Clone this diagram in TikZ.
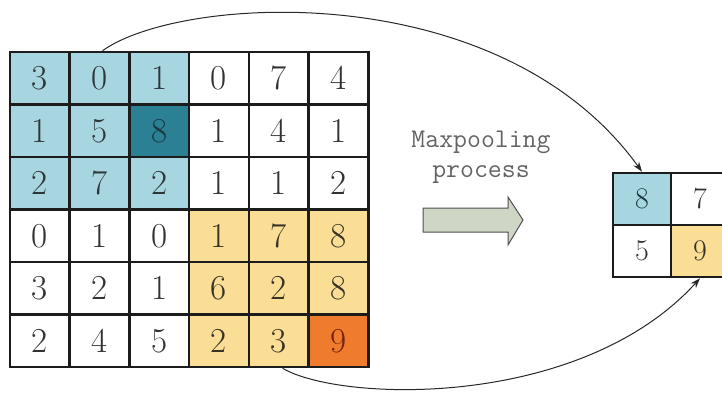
\documentclass[tikz,border=0pt]{standalone}
\usetikzlibrary{arrows.meta}

% cell fills: 0 plain, 1 blue window, 2 yellow window, 3 blue max, 4 yellow max
\definecolor{zone0}{RGB}{255,255,255}
\definecolor{zone1}{RGB}{168,214,224}
\definecolor{zone2}{RGB}{250,222,150}
\definecolor{zone3}{RGB}{43,128,148}
\definecolor{zone4}{RGB}{238,124,44}
\definecolor{ink0}{RGB}{50,50,50}
\definecolor{ink1}{RGB}{45,55,58}
\definecolor{ink2}{RGB}{55,50,35}
\definecolor{ink3}{RGB}{25,55,65}
\definecolor{ink4}{RGB}{120,35,15}
\definecolor{gridline}{RGB}{28,28,28}
\definecolor{labelgray}{RGB}{100,100,100}
\definecolor{arrowfill}{RGB}{208,214,198}
\definecolor{arrowline}{RGB}{80,80,80}
\definecolor{curveline}{RGB}{40,40,40}

\begin{document}
\begin{tikzpicture}[x=1pt,y=-1pt,
  cell/.style={draw=gridline, line width=2.6pt, minimum width=59.7pt,
    minimum height=52.5pt, inner sep=0pt, font=\fontsize{35}{35}\selectfont},
  smallcell/.style={draw=gridline, line width=2.6pt, minimum width=58pt,
    minimum height=52pt, inner sep=0pt, font=\fontsize{30}{30}\selectfont},
  link/.style={draw=curveline, line width=1pt, -{Stealth[length=10pt,width=7pt]}}]
\useasboundingbox (0,0) rectangle (722,392);
\clip (0,0) rectangle (722,392);

% 6x6 input feature map
\foreach \row [count=\r] in {{3,0,1,0,7,4},{1,5,8,1,4,1},{2,7,2,1,1,2},
                             {0,1,0,1,7,8},{3,2,1,6,2,8},{2,4,5,2,3,9}} {
  \foreach \v [count=\c] in \row {
    \pgfmathtruncatemacro\zone{and(\r==2,\c==3) ? 3 :
      (and(\r==6,\c==6) ? 4 : (and(\r<4,\c<4) ? 1 : (and(\r>3,\c>3) ? 2 : 0)))}
    \node[cell, fill=zone\zone, text=ink\zone] (m-\r-\c)
      at ({10+(\c-0.5)*59.7},{52+(\r-0.5)*52.5}) {\v};
  }
}

% 2x2 pooled output
\node[smallcell, fill=zone1, text=ink3] (p-1-1) at (642,199) {8};
\node[smallcell, fill=zone0, text=ink0] (p-1-2) at (700,199) {7};
\node[smallcell, fill=zone0, text=ink0] (p-2-1) at (642,251) {5};
\node[smallcell, fill=zone2, text=ink2] (p-2-2) at (700,251) {9};

% caption and block arrow
\node[text=labelgray, font=\ttfamily\fontsize{27}{30}\selectfont, align=center]
  (caption) at (481,157) {Maxpooling\\process};
\draw[fill=arrowfill, draw=arrowline, line width=1pt]
  (423,208) -- (508,208) -- (508,197) -- (523,220) -- (508,245)
  -- (508,232) -- (423,232) -- cycle;

% curved links from the pooling windows to their maxima
\draw[link] ([xshift=3pt]m-1-2.north) .. controls (180,-5) and (500,-25) .. (p-1-1.north);
\draw[link] ([xshift=4pt]m-6-5.south) .. controls (340,402) and (580,410) .. (p-2-2.south);
\end{tikzpicture}
\end{document}
